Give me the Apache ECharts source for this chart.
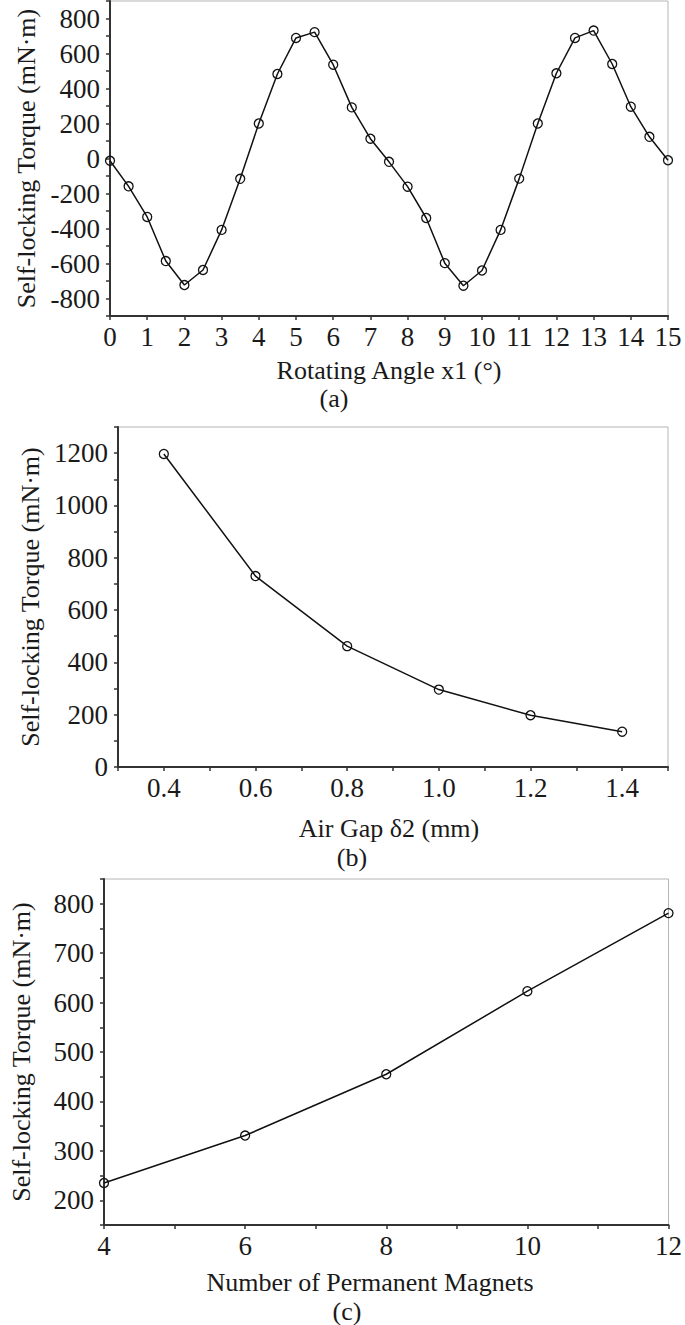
<!DOCTYPE html>
<html>
<head>
<meta charset="utf-8">
<script src="https://cdn.jsdelivr.net/npm/echarts@6/dist/echarts.min.js"></script>
<style>
  html, body { margin: 0; padding: 0; background: #fff; }
  #chart { width: 685px; height: 1325px; }
</style>
</head>
<body>
<div id="chart"></div>
<script>
// ---- Data ----
const anglesA = [0,0.5,1,1.5,2,2.5,3,3.5,4,4.5,5,5.5,6,6.5,7,7.5,8,8.5,9,9.5,10,10.5,11,11.5,12,12.5,13,13.5,14,14.5,15];
const torqueA = [-13,-159,-334,-586,-723,-637,-408,-116,200,483,689,722,536,292,113,-19,-161,-340,-598,-727,-640,-408,-115,200,487,689,731,540,296,124,-10];

const gapB = [0.4,0.6,0.8,1.0,1.2,1.4];
const torqueB = [1197,730,462,296,198,135];

const magnetsC = [4,6,8,10,12];
const torqueC = [235,331,455,623,781];

const yTitle = 'Self-locking Torque (mN·m)';
const xTitles = ['Rotating Angle x1 (°)', 'Air Gap δ2 (mm)', 'Number of Permanent Magnets'];
const panelLabels = ['(a)', '(b)', '(c)'];

// ---- Styling ----
const FONT = "'Liberation Serif', 'Times New Roman', serif";
const TXT = '#1a1a1a';
const AXC = '#333';

function pairs(xs, ys) { return xs.map((x, i) => [x, ys[i]]); }

function xAxisCfg(gridIndex, min, max, interval, fmt) {
  return {
    type: 'value', gridIndex, min, max, interval,
    axisLine: { show: true, onZero: false, lineStyle: { color: AXC, width: 2 } },
    axisTick: { show: true, inside: false, length: 4, lineStyle: { color: AXC, width: 1.5 } },
    axisLabel: { color: TXT, fontFamily: FONT, fontSize: 27, margin: 7, formatter: fmt },
    splitLine: { show: false }
  };
}
function yAxisCfg(gridIndex, min, max, interval, fmt, nameGap) {
  return {
    type: 'value', gridIndex, min, max, interval,
    name: yTitle, nameLocation: 'middle', nameGap,
    nameTextStyle: { color: TXT, fontFamily: FONT, fontSize: 26 },
    axisLine: { show: true, onZero: false, lineStyle: { color: AXC, width: 2 } },
    axisTick: { show: true, inside: false, length: 4, lineStyle: { color: AXC, width: 1.5 } },
    axisLabel: { color: TXT, fontFamily: FONT, fontSize: 27, margin: 10, formatter: fmt },
    splitLine: { show: false }
  };
}
function lineSeries(idx, data) {
  return {
    type: 'line', xAxisIndex: idx, yAxisIndex: idx, data,
    symbol: 'circle', symbolSize: 9,
    itemStyle: { color: 'rgba(0,0,0,0)', borderColor: '#111', borderWidth: 1.3 },
    lineStyle: { color: '#111', width: 1.5 },
    animation: false
  };
}
function label(text, x, y) {
  return { type: 'text', x, y, style: { text, font: `26px ${FONT}`, fill: TXT, align: 'center', verticalAlign: 'middle' } };
}

const chart = echarts.init(document.getElementById('chart'), null, { renderer: 'svg' });
chart.setOption({
  backgroundColor: '#fff',
  animation: false,
  grid: [
    { left: 110, right: 17, top: 1, height: 315, show: true, borderColor: '#b5b5b5', borderWidth: 1, backgroundColor: 'transparent' },
    { left: 118, right: 17, top: 427, height: 340, show: true, borderColor: '#b5b5b5', borderWidth: 1, backgroundColor: 'transparent' },
    { left: 99, right: 14, top: 879, height: 346, show: true, borderColor: '#b5b5b5', borderWidth: 1, backgroundColor: 'transparent' }
  ],
  xAxis: [
    xAxisCfg(0, 0, 15, 1, v => String(v)),
    xAxisCfg(1, 0.3, 1.5, 0.1, v => (Math.round(v * 10) % 2 === 0 ? v.toFixed(1) : '')),
    xAxisCfg(2, 4, 12, 1, v => (v % 2 === 0 ? String(v) : ''))
  ],
  yAxis: [
    yAxisCfg(0, -900, 900, 100, v => (v % 200 === 0 ? String(v) : ''), 68),
    yAxisCfg(1, 0, 1300, 100, v => (v % 200 === 0 ? String(v) : ''), 74),
    yAxisCfg(2, 150, 850, 50, v => (v % 100 === 0 ? String(v) : ''), 70)
  ],
  series: [
    lineSeries(0, pairs(anglesA, torqueA)),
    lineSeries(1, pairs(gapB, torqueB)),
    lineSeries(2, pairs(magnetsC, torqueC))
  ],
  graphic: [
    label(xTitles[0], 389, 370),
    label(panelLabels[0], 334, 398),
    label(xTitles[1], 389, 828),
    label(panelLabels[1], 352, 857),
    label(xTitles[2], 370, 1282),
    label(panelLabels[2], 347, 1311)
  ]
});
</script>
</body>
</html>
